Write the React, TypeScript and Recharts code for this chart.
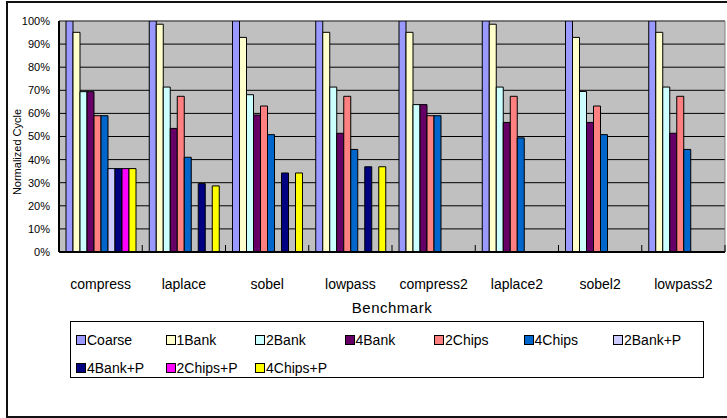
import { Bar, BarChart, CartesianGrid, ReferenceArea, XAxis, YAxis } from "recharts";

const categories = ["compress", "laplace", "sobel", "lowpass", "compress2", "laplace2", "sobel2", "lowpass2"];

const coarse = [100, 100, 100, 100, 100, 100, 100, 100];
const bank1 = [95.1, 98.6, 92.9, 95.1, 95.1, 98.6, 92.9, 95.1];
const bank2 = [69.4, 71.4, 68.1, 71.4, 63.8, 71.4, 69.5, 71.4];
const bank4 = [69.4, 53.5, 59.3, 51.4, 63.8, 56.1, 56.1, 51.4];
const chips2 = [59, 67.4, 63.2, 67.4, 59, 67.4, 63.2, 67.4];
const chips4 = [59, 41, 50.8, 44.4, 59, 49.4, 50.8, 44.4];
const bank2p = [36.1, null, null, null, null, null, null, null];
const bank4p = [36.1, 29.6, 34.2, 36.9, null, null, null, null];
const chips2p = [36.1, null, null, null, null, null, null, null];
const chips4p = [36.1, 28.6, 34.2, 36.9, null, null, null, null];

const yTicks = [0, 10, 20, 30, 40, 50, 60, 70, 80, 90, 100];

const series = [
  { key: "Coarse", values: coarse, color: "#9999FF" },
  { key: "1Bank", values: bank1, color: "#FFFFCC" },
  { key: "2Bank", values: bank2, color: "#CCFFFF" },
  { key: "4Bank", values: bank4, color: "#660066" },
  { key: "2Chips", values: chips2, color: "#FF8080" },
  { key: "4Chips", values: chips4, color: "#0066CC" },
  { key: "2Bank+P", values: bank2p, color: "#CCCCFF" },
  { key: "4Bank+P", values: bank4p, color: "#000080" },
  { key: "2Chips+P", values: chips2p, color: "#FF00FF" },
  { key: "4Chips+P", values: chips4p, color: "#FFFF00" },
];

const data = categories.map((name, i) => {
  const row: Record<string, string | number | null> = { name };
  series.forEach((s) => {
    row[s.key] = s.values[i];
  });
  return row;
});

const FONT = '"Liberation Sans", Arial, sans-serif';
const WIDTH = 727;
const HEIGHT = 418;
const PLOT_LEFT = 59;
const PLOT_RIGHT = 2;
const BAND = (WIDTH - PLOT_LEFT - PLOT_RIGHT) / categories.length;

function CategoryTick(props: any) {
  const { x, y, payload } = props;
  return (
    <g>
      <line x1={x + BAND / 2} x2={x + BAND / 2} y1={y - 7} y2={y} stroke="#000" strokeWidth={1} />
      <text x={x} y={y + 37} textAnchor="middle" fontFamily={FONT} fontSize={14} fill="#000">
        {payload.value}
      </text>
    </g>
  );
}

function App() {
  return (
    <div
      style={{
        position: "absolute",
        left: 0,
        top: 0,
        width: WIDTH,
        height: HEIGHT,
        overflow: "hidden",
        background: "#fff",
        fontFamily: FONT,
      }}
    >
      <div
        style={{
          position: "absolute",
          left: 6,
          top: 1,
          width: 760,
          height: 413,
          border: "2px solid #111",
        }}
      />
      <BarChart
        width={WIDTH}
        height={HEIGHT}
        data={data}
        margin={{ top: 21, right: PLOT_RIGHT, bottom: 136, left: 0 }}
        barGap={0}
        barCategoryGap={7}
        style={{ position: "absolute", left: 0, top: 0 }}
      >
        <CartesianGrid vertical={false} stroke="#000" strokeWidth={1} fill="#C0C0C0" />
        <ReferenceArea y1={0} y2={100} fill="none" stroke="#808080" strokeWidth={1} />
        <XAxis
          dataKey="name"
          height={30}
          tickLine={false}
          tickSize={0}
          tickMargin={0}
          axisLine={{ stroke: "#000", strokeWidth: 2 }}
          tick={CategoryTick}
          interval={0}
        />
        <YAxis
          width={PLOT_LEFT}
          domain={[0, 100]}
          ticks={yTicks}
          tickFormatter={(v: number) => `${v}%`}
          tickLine={false}
          tickSize={0}
          tickMargin={9}
          axisLine={{ stroke: "#000", strokeWidth: 2 }}
          tick={{ fontFamily: FONT, fontSize: 11, fill: "#000" }}
          allowDataOverflow
        />
        {series.map((s) => (
          <Bar
            key={s.key}
            dataKey={s.key}
            fill={s.color}
            stroke="#000"
            strokeWidth={1}
            isAnimationActive={false}
          />
        ))}
      </BarChart>

      <div
        style={{
          position: "absolute",
          left: 2,
          top: 152,
          width: 30,
          height: 0,
          display: "flex",
          justifyContent: "center",
        }}
      >
        <span
          style={{
            transform: "rotate(-90deg)",
            whiteSpace: "nowrap",
            fontSize: 11,
            lineHeight: "0px",
          }}
        >
          Normalized Cycle
        </span>
      </div>

      <div
        style={{
          position: "absolute",
          left: PLOT_LEFT,
          width: WIDTH - PLOT_LEFT - PLOT_RIGHT,
          top: 298,
          textAlign: "center",
          fontSize: 15,
          letterSpacing: 0.5,
          lineHeight: "20px",
        }}
      >
        Benchmark
      </div>

      <div
        style={{
          position: "absolute",
          left: 70,
          top: 321,
          width: 627,
          height: 51,
          border: "1.5px solid #000",
          display: "flex",
          flexWrap: "wrap",
          alignContent: "flex-start",
          paddingLeft: 5,
          paddingTop: 4,
        }}
      >
        {series.map((s) => (
          <div
            key={s.key}
            style={{
              width: 89.5,
              height: 28,
              display: "flex",
              alignItems: "center",
              fontSize: 14,
              whiteSpace: "nowrap",
            }}
          >
            <span
              style={{
                display: "inline-block",
                width: 8,
                height: 8,
                background: s.color,
                border: "1px solid #000",
                marginRight: 1,
                flexShrink: 0,
              }}
            />
            {s.key}
          </div>
        ))}
      </div>
    </div>
  );
}

export default App;
